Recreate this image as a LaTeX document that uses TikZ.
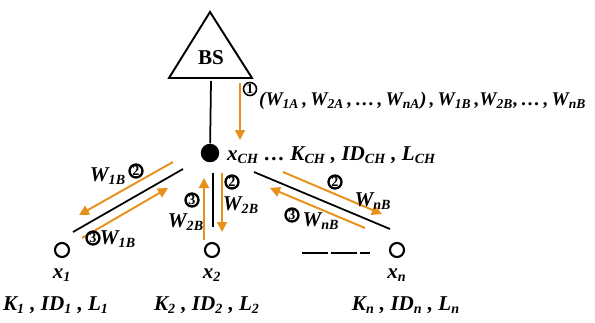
\documentclass[tikz,border=0pt]{standalone}
\usepackage{fontspec}
\setmainfont{Liberation Serif}
\usetikzlibrary{arrows.meta,positioning,calc}
\definecolor{LinkOrange}{HTML}{E8901A}
\newcommand{\wsub}[2]{#1\textsubscript{#2}}
\begin{document}
\begin{tikzpicture}[x=0.02cm,y=-0.02cm,
    hub/.style={circle,fill=black,minimum size=3.7mm,inner sep=0pt},
    sensor/.style={circle,draw,line width=1.2pt,minimum size=2.8mm,inner sep=0pt},
    lbl/.style={inner sep=1pt,font=\fontsize{12}{14}\selectfont\bfseries\itshape},
    num/.style={circle,draw,line width=1.3pt,minimum size=2.6mm,inner sep=0pt,font=\bfseries\footnotesize},
    link/.style={line width=1pt,black},
    flow/.style={-{Triangle[length=2mm,width=2mm]},line width=1.1pt,LinkOrange}
  ]
  \useasboundingbox (0,0) rectangle (595,322);
  \draw[line width=1.1pt,line join=miter] (210,12) -- (252,78) -- (169,78) -- cycle;
  \node[lbl,font=\fontsize{12}{14}\selectfont\bfseries] (bs) at (211,58) {BS};
  \coordinate (bsbase) at (211,81);
  \node[hub] (ch) at (210,153) {};
  \node[sensor] (x1) at (62,250) {};
  \node[sensor] (x2) at (212,250) {};
  \node[sensor] (xn) at (397,250) {};
  \node[lbl] (x1lab) at (62,275) {\wsub{x}{1}};
  \node[lbl] (x2lab) at (212,275) {\wsub{x}{2}};
  \node[lbl] (xnlab) at (397,275) {\wsub{x}{n}};
  \node[lbl] (k1) at (56,305) {\wsub{K}{1} , \wsub{ID}{1} , \wsub{L}{1}};
  \node[lbl] (k2) at (207,305) {\wsub{K}{2} , \wsub{ID}{2} , \wsub{L}{2}};
  \node[lbl] (kn) at (406,305) {\wsub{K}{n} , \wsub{ID}{n} , \wsub{L}{n}};
  \node[lbl,anchor=west] (chlab) at (225,155) {\wsub{x}{CH} … \wsub{K}{CH} , \wsub{ID}{CH} , \wsub{L}{CH}};
  \node[lbl,anchor=west,font=\fontsize{11}{13}\selectfont\bfseries\itshape] (wlist) at (257,101) {\spaceskip=0.16em\relax (\wsub{W}{1A} , \wsub{W}{2A} , … , \wsub{W}{nA}) , \wsub{W}{1B} ,\wsub{W}{2B}, … , \wsub{W}{nB}};
  \node[num,line width=0.9pt] (n1) at (250,89) {1};
  \draw[link] (bsbase) -- (ch);
  \draw[flow] (240,83) -- (240,140);
  % cluster head to x1
  \draw[link] (183,169) -- (73,232);
  \draw[flow] (173,162) -- (79,215);
  \draw[flow] (82,238) -- (168,188);
  \node[lbl] (w1b) at (108,176) {\wsub{W}{1B}};
  \node[num] (n2a) at (136,171) {2};
  \node[num] (n3a) at (93,238) {3};
  \node[lbl] (w1bb) at (118,239) {\wsub{W}{1B}};
  % cluster head to x2
  \draw[link,shorten <=2mm,shorten >=3mm] ($(ch.south)+(3,0)$) -- ($(x2.north)+(1,0)$);
  \draw[flow] (222,173) -- (222,232);
  \draw[flow] (204,240) -- (204,178);
  \node[num] (n2b) at (232,182) {2};
  \node[lbl] (w2b) at (241,205) {\wsub{W}{2B}};
  \node[num] (n3b) at (192,200) {3};
  \node[lbl] (w2bb) at (186,222) {\wsub{W}{2B}};
  % cluster head to xn
  \draw[link] (254,172) -- (390,229);
  \draw[flow] (283,172) -- (382,214);
  \draw[flow] (365,228) -- (270,188);
  \node[num] (n2c) at (335,182) {2};
  \node[lbl] (wnb) at (373,201) {\wsub{W}{nB}};
  \node[num] (n3c) at (292,215) {3};
  \node[lbl] (wnbb) at (321,221) {\wsub{W}{nB}};
  \draw[line width=1pt,dash pattern=on 15pt off 1.5pt] (302,253) -- (370,253);
\end{tikzpicture}
\end{document}
